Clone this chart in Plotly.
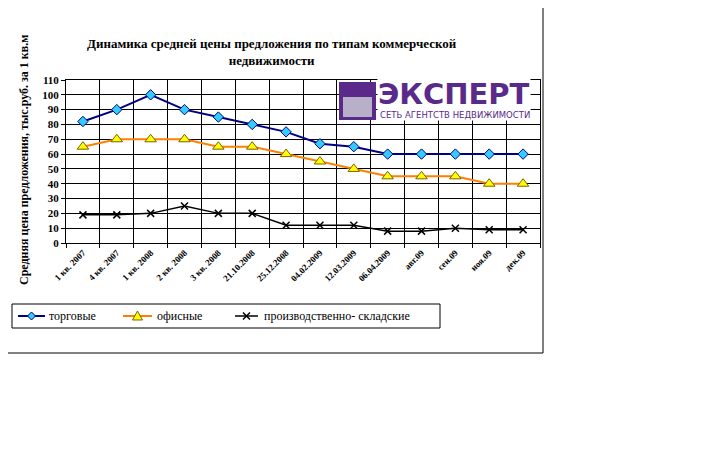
import plotly.graph_objects as go

categories = ["1 кв. 2007","4 кв. 2007","1 кв. 2008","2 кв. 2008","3 кв. 2008","21.10.2008","25.12.2008",
              "04.02.2009","12.03.2009","06.04.2009","авг.09","сен.09","ноя.09","дек.09"]
trade = [82,90,100,90,85,80,75,67,65,60,60,60,60,60]
office = [65,70,70,70,65,65,60,55,50,45,45,45,40,40]
industrial = [19,19,20,25,20,20,12,12,12,8,8,10,9,9]
series_names = ["торговые", "офисные", "производственно- складские"]
y_ticks = list(range(0, 111, 10))

xs = [i + 0.5 for i in range(len(categories))]
F = "Liberation Serif"
styles = [
    dict(line=dict(color="#000080", width=2), marker=dict(symbol="diamond", size=8, color="#33CCFF", line=dict(color="#000080", width=1))),
    dict(line=dict(color="#FF8000", width=2), marker=dict(symbol="triangle-up", size=10, color="#FFFF00", line=dict(color="#806000", width=1))),
    dict(line=dict(color="#000000", width=1.5), marker=dict(symbol="x-thin", size=7, line=dict(color="#000000", width=1.5))),
]
fig = go.Figure()
for name, ys, st in zip(series_names, [trade, office, industrial], styles):
    fig.add_trace(go.Scatter(x=xs, y=ys, name=name, mode="lines+markers", showlegend=False, **st))

OX, OY = 8, 8
L, T = 66 - OX, 80 - OY
def px(x): return (x - 66) / 474
def py(y): return (243 - y) / 163
def path(pts):
    return "M " + " L ".join(f"{px(a):.5f},{py(b):.5f}" for a, b in pts) + " Z"

shapes = [
    dict(type="rect", xref="paper", yref="paper", x0=px(5), x1=px(543), y0=py(353), y1=py(5), line=dict(color="black", width=1)),
    dict(type="rect", xref="paper", yref="paper", x0=px(12), x1=px(440), y0=py(328), y1=py(304), line=dict(color="black", width=1)),
    dict(type="rect", xref="paper", yref="paper", x0=px(339), x1=px(376), y0=py(120), y1=py(82), fillcolor="#5A2A8A", line=dict(width=0)),
    dict(type="rect", xref="paper", yref="paper", x0=px(343), x1=px(372), y0=py(117), y1=py(97), fillcolor="#B8B0C8", line=dict(width=0)),
]
ann = []
leg_x = [(18, 45, 47), (123, 152, 155), (235, 258, 262)]
Y = 316
for i, ((a, b, t), name, st) in enumerate(zip(leg_x, series_names, styles)):
    shapes.append(dict(type="line", xref="paper", yref="paper", x0=px(a), x1=px(b), y0=py(Y), y1=py(Y),
                       line=dict(color=st["line"]["color"], width=st["line"]["width"])))
    c = (a + b) / 2
    if i == 0:
        shapes.append(dict(type="path", xref="paper", yref="paper", path=path([(c, Y - 4), (c + 4, Y), (c, Y + 4), (c - 4, Y)]),
                           fillcolor="#33CCFF", line=dict(color="#000080", width=1)))
    elif i == 1:
        shapes.append(dict(type="path", xref="paper", yref="paper", path=path([(c, Y - 5), (c + 5, Y + 4), (c - 5, Y + 4)]),
                           fillcolor="#FFFF00", line=dict(color="#806000", width=1)))
    else:
        for d in (1, -1):
            shapes.append(dict(type="line", xref="paper", yref="paper", x0=px(c - 3.5), x1=px(c + 3.5),
                               y0=py(Y - 3.5 * d), y1=py(Y + 3.5 * d), line=dict(color="black", width=1.5)))
    ann.append(dict(xref="paper", yref="paper", x=px(t), y=py(Y), text=name, xanchor="left", yanchor="middle",
                    showarrow=False, font=dict(size=12, family=F, color="black")))

fig.update_layout(
    width=720, height=450, margin=dict(l=L, r=720 - L - 474, t=T, b=450 - T - 163),
    paper_bgcolor="white", plot_bgcolor="white", showlegend=False,
    font=dict(family=F, color="black"),
    shapes=shapes,
    xaxis=dict(range=[0, 14], tickvals=xs, ticktext=[f"<b>{c}</b>" for c in categories], tickangle=-45, showgrid=False,
               tickfont=dict(size=9, family=F, color="black"), showline=True, linecolor="black", ticks="",
               minor=dict(tickvals=list(range(15)), showgrid=True, gridcolor="black", gridwidth=1, ticks="outside", ticklen=4, tickcolor="black"),
               zeroline=False, mirror=True),
    yaxis=dict(range=[0, 110], tickvals=y_ticks, ticktext=[f"<b>{v}</b>" for v in y_ticks], gridcolor="black", gridwidth=1,
               showline=True, linecolor="black", ticks="outside", ticklen=4, tickcolor="black",
               tickfont=dict(size=11, family=F, color="black"), zeroline=False, mirror=True),
    annotations=ann + [
        dict(xref="paper", yref="paper", x=px(272), y=py(34), text="<b>Динамика средней цены предложения по типам коммерческой<br>недвижимости</b>",
             showarrow=False, font=dict(size=13, family=F)),
        dict(xref="paper", yref="paper", x=px(15), y=py(160), text="<b>Средняя цена предложения, тыс.руб. за 1 кв.м</b>",
             textangle=-90, showarrow=False, font=dict(size=12, family=F)),
        dict(xref="paper", yref="paper", x=px(377), y=py(94), text="<b>ЭКСПЕРТ</b>", xanchor="left", yanchor="middle",
             showarrow=False, font=dict(size=29, family="DejaVu Sans", color="#5A2A8A"), bgcolor="white", borderpad=0),
        dict(xref="paper", yref="paper", x=px(379), y=py(115), text="СЕТЬ АГЕНТСТВ НЕДВИЖИМОСТИ", xanchor="left", yanchor="middle",
             showarrow=False, font=dict(size=8.5, family="DejaVu Sans", color="#5A2A8A"), bgcolor="white", borderpad=0),
    ],
)
fig.write_html("out.html")
